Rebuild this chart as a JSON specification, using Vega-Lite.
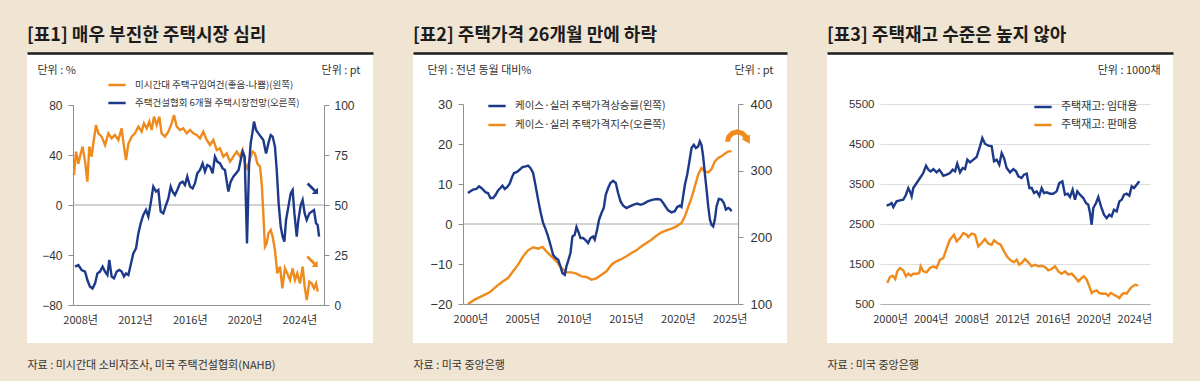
{
"$schema":"https://vega.github.io/schema/vega-lite/v6.json",
"background":"#f0e4d2",
"padding":{"left":27,"top":27,"right":27,"bottom":13},
"spacing":40,
"resolve":{"scale":{"color":"independent"},"legend":{"color":"independent"}},
"config":{
 "view":{"fill":"#ffffff","stroke":null},
 "font":"Noto Sans CJK KR",
 "axis":{"grid":false,"domainColor":"#8f8f8f","tickColor":"#8f8f8f","labelColor":"#333333","labelFont":"Liberation Sans","labelFontSize":12,"titleFont":"Noto Sans CJK KR","titleFontWeight":"normal","titleFontSize":11,"titleColor":"#333333"},
 "legend":{"orient":"none","direction":"vertical","symbolType":"stroke","symbolSize":300,"symbolStrokeWidth":2.5,"labelFont":"Noto Sans CJK KR","labelColor":"#333333","labelLimit":400,"labelOffset":8,"padding":0,"rowPadding":3},
 "title":{"anchor":"start","frame":"group","font":"Noto Sans CJK KR","fontSize":18,"fontWeight":700,"color":"#1c1c1c","offset":8,"baseline":"alphabetic"}
},
"datasets":{
 "p1o":[{"t":2007.55,"v":24},{"t":2007.7,"v":42.7},{"t":2007.87,"v":33},{"t":2007.99,"v":38.7},{"t":2008.18,"v":46.7},{"t":2008.36,"v":34.7},{"t":2008.53,"v":18.7},{"t":2008.67,"v":46.7},{"t":2008.84,"v":38.7},{"t":2008.96,"v":49},{"t":2009.16,"v":64},{"t":2009.33,"v":57.3},{"t":2009.57,"v":54.7},{"t":2009.82,"v":48},{"t":2010.06,"v":57.3},{"t":2010.3,"v":53.3},{"t":2010.54,"v":56},{"t":2010.79,"v":52},{"t":2011.03,"v":61.3},{"t":2011.2,"v":46.7},{"t":2011.35,"v":36},{"t":2011.52,"v":49},{"t":2011.76,"v":54.7},{"t":2012.0,"v":57.3},{"t":2012.25,"v":62.7},{"t":2012.49,"v":58.7},{"t":2012.66,"v":65.3},{"t":2012.86,"v":61.3},{"t":2013.05,"v":66.7},{"t":2013.22,"v":60},{"t":2013.39,"v":70.7},{"t":2013.59,"v":64},{"t":2013.78,"v":70.7},{"t":2013.95,"v":57.3},{"t":2014.19,"v":54.7},{"t":2014.44,"v":58.7},{"t":2014.68,"v":65.3},{"t":2014.85,"v":72},{"t":2015.05,"v":62.7},{"t":2015.29,"v":60},{"t":2015.53,"v":61.3},{"t":2015.78,"v":57.3},{"t":2016.02,"v":60},{"t":2016.26,"v":57.3},{"t":2016.51,"v":56},{"t":2016.75,"v":53.3},{"t":2016.99,"v":58.7},{"t":2017.24,"v":52},{"t":2017.48,"v":48},{"t":2017.72,"v":52},{"t":2017.97,"v":44},{"t":2018.21,"v":45.3},{"t":2018.45,"v":38.7},{"t":2018.7,"v":41.3},{"t":2018.94,"v":34.7},{"t":2019.18,"v":38.7},{"t":2019.43,"v":42.7},{"t":2019.67,"v":38.7},{"t":2019.86,"v":44},{"t":2020.03,"v":33.3},{"t":2020.2,"v":29.3},{"t":2020.4,"v":37.3},{"t":2020.59,"v":42.7},{"t":2020.76,"v":41.3},{"t":2020.93,"v":33.3},{"t":2021.13,"v":30.7},{"t":2021.27,"v":14.7},{"t":2021.37,"v":-6.7},{"t":2021.49,"v":-33.3},{"t":2021.62,"v":-30.7},{"t":2021.74,"v":-22.7},{"t":2021.91,"v":-20},{"t":2022.05,"v":-25.3},{"t":2022.22,"v":-36},{"t":2022.39,"v":-54.7},{"t":2022.59,"v":-49.3},{"t":2022.76,"v":-66.7},{"t":2022.95,"v":-50.7},{"t":2023.12,"v":-54.7},{"t":2023.32,"v":-60},{"t":2023.51,"v":-50.7},{"t":2023.68,"v":-60},{"t":2023.85,"v":-54.7},{"t":2024.05,"v":-62.7},{"t":2024.24,"v":-49.3},{"t":2024.39,"v":-65.3},{"t":2024.54,"v":-76},{"t":2024.73,"v":-61.3},{"t":2024.9,"v":-62.7},{"t":2025.07,"v":-66.7},{"t":2025.22,"v":-62.7},{"t":2025.34,"v":-69.3}],
 "p1b":[{"t":2007.63,"v":19.2},{"t":2007.87,"v":20},{"t":2008.11,"v":17.5},{"t":2008.36,"v":16.7},{"t":2008.53,"v":12.5},{"t":2008.72,"v":9.2},{"t":2008.91,"v":8.3},{"t":2009.09,"v":10.8},{"t":2009.26,"v":15.8},{"t":2009.45,"v":16.7},{"t":2009.64,"v":19.2},{"t":2009.82,"v":16.7},{"t":2009.99,"v":15},{"t":2010.13,"v":22.5},{"t":2010.3,"v":14.2},{"t":2010.47,"v":13.3},{"t":2010.67,"v":16.7},{"t":2010.86,"v":17.5},{"t":2011.03,"v":16.7},{"t":2011.2,"v":14.2},{"t":2011.35,"v":15.8},{"t":2011.52,"v":15},{"t":2011.69,"v":20},{"t":2011.88,"v":25.8},{"t":2012.08,"v":28.3},{"t":2012.25,"v":35.8},{"t":2012.42,"v":40.8},{"t":2012.61,"v":45},{"t":2012.81,"v":47.5},{"t":2012.98,"v":44.2},{"t":2013.15,"v":50.8},{"t":2013.34,"v":59.2},{"t":2013.54,"v":56.7},{"t":2013.71,"v":57.5},{"t":2013.88,"v":46.7},{"t":2014.07,"v":45.8},{"t":2014.27,"v":50},{"t":2014.44,"v":53.3},{"t":2014.61,"v":59.2},{"t":2014.75,"v":56.7},{"t":2014.92,"v":55},{"t":2015.09,"v":57.5},{"t":2015.29,"v":60.8},{"t":2015.48,"v":61.7},{"t":2015.65,"v":60},{"t":2015.82,"v":64.2},{"t":2016.02,"v":59.2},{"t":2016.21,"v":58.3},{"t":2016.38,"v":60.8},{"t":2016.55,"v":65.8},{"t":2016.75,"v":67.5},{"t":2016.94,"v":70.8},{"t":2017.11,"v":66.7},{"t":2017.28,"v":70},{"t":2017.48,"v":69.2},{"t":2017.67,"v":65.8},{"t":2017.84,"v":74.2},{"t":2018.01,"v":71.7},{"t":2018.21,"v":70.8},{"t":2018.4,"v":68.3},{"t":2018.57,"v":67.5},{"t":2018.82,"v":56.7},{"t":2018.99,"v":61.7},{"t":2019.18,"v":64.2},{"t":2019.38,"v":65.8},{"t":2019.57,"v":67.5},{"t":2019.72,"v":72.5},{"t":2019.86,"v":76.7},{"t":2020.01,"v":74.2},{"t":2020.18,"v":30.8},{"t":2020.33,"v":70},{"t":2020.45,"v":81},{"t":2020.57,"v":85.8},{"t":2020.69,"v":91.7},{"t":2020.84,"v":87.5},{"t":2021.01,"v":85.8},{"t":2021.18,"v":84.2},{"t":2021.37,"v":82.5},{"t":2021.57,"v":75.8},{"t":2021.74,"v":80.8},{"t":2021.91,"v":85},{"t":2022.05,"v":84.2},{"t":2022.22,"v":79.2},{"t":2022.35,"v":67.5},{"t":2022.49,"v":50.8},{"t":2022.64,"v":39.2},{"t":2022.78,"v":34.2},{"t":2022.91,"v":31.7},{"t":2023.03,"v":42.5},{"t":2023.2,"v":49.2},{"t":2023.37,"v":55.8},{"t":2023.51,"v":57.5},{"t":2023.64,"v":45.8},{"t":2023.81,"v":34.2},{"t":2023.93,"v":42.5},{"t":2024.1,"v":50},{"t":2024.24,"v":52.5},{"t":2024.39,"v":45.8},{"t":2024.54,"v":42.5},{"t":2024.73,"v":45.8},{"t":2024.9,"v":46.7},{"t":2025.07,"v":47.5},{"t":2025.22,"v":40.8},{"t":2025.34,"v":40},{"t":2025.44,"v":34.2}],
 "p2b":[{"t":1999.77,"v":7.75},{"t":2000.0,"v":8.2},{"t":2000.26,"v":8.6},{"t":2000.58,"v":8.75},{"t":2000.84,"v":9.4},{"t":2001.06,"v":9.0},{"t":2001.29,"v":8.4},{"t":2001.48,"v":7.9},{"t":2001.7,"v":7.75},{"t":2001.93,"v":6.5},{"t":2002.19,"v":6.5},{"t":2002.44,"v":7.3},{"t":2002.67,"v":8.4},{"t":2002.89,"v":9.0},{"t":2003.09,"v":9.6},{"t":2003.31,"v":8.75},{"t":2003.54,"v":9.2},{"t":2003.79,"v":10.1},{"t":2004.02,"v":11.75},{"t":2004.21,"v":12.75},{"t":2004.5,"v":13.0},{"t":2004.76,"v":13.6},{"t":2005.02,"v":14.2},{"t":2005.34,"v":14.4},{"t":2005.56,"v":14.6},{"t":2005.79,"v":14.0},{"t":2006.05,"v":12.75},{"t":2006.3,"v":9.4},{"t":2006.53,"v":6.1},{"t":2006.75,"v":3.2},{"t":2007.01,"v":0.25},{"t":2007.27,"v":-1.4},{"t":2007.49,"v":-3.1},{"t":2007.72,"v":-5.2},{"t":2007.97,"v":-7.7},{"t":2008.23,"v":-8.5},{"t":2008.46,"v":-8.9},{"t":2008.68,"v":-10.6},{"t":2008.87,"v":-12.25},{"t":2009.1,"v":-12.7},{"t":2009.26,"v":-10.6},{"t":2009.42,"v":-9.3},{"t":2009.65,"v":-7.25},{"t":2009.84,"v":-3.1},{"t":2010.06,"v":-2.7},{"t":2010.23,"v":-0.75},{"t":2010.39,"v":-1.8},{"t":2010.61,"v":-3.5},{"t":2010.87,"v":-3.5},{"t":2011.13,"v":-4.1},{"t":2011.35,"v":-4.75},{"t":2011.58,"v":-3.5},{"t":2011.83,"v":-3.1},{"t":2011.99,"v":-3.9},{"t":2012.22,"v":-1.4},{"t":2012.41,"v":1.1},{"t":2012.64,"v":2.75},{"t":2012.86,"v":4.0},{"t":2013.05,"v":7.3},{"t":2013.28,"v":9.0},{"t":2013.5,"v":10.25},{"t":2013.76,"v":10.8},{"t":2014.02,"v":10.25},{"t":2014.24,"v":7.75},{"t":2014.47,"v":5.7},{"t":2014.73,"v":4.6},{"t":2015.05,"v":4.0},{"t":2015.37,"v":4.4},{"t":2015.69,"v":4.8},{"t":2016.08,"v":5.1},{"t":2016.4,"v":4.8},{"t":2016.72,"v":5.1},{"t":2017.14,"v":5.7},{"t":2017.62,"v":6.1},{"t":2018.01,"v":6.25},{"t":2018.33,"v":6.1},{"t":2018.59,"v":5.25},{"t":2018.84,"v":4.25},{"t":2019.07,"v":3.4},{"t":2019.39,"v":2.9},{"t":2019.71,"v":3.2},{"t":2019.94,"v":4.25},{"t":2020.19,"v":4.6},{"t":2020.35,"v":4.25},{"t":2020.51,"v":6.9},{"t":2020.68,"v":9.8},{"t":2020.9,"v":12.3},{"t":2021.09,"v":15.25},{"t":2021.32,"v":19.0},{"t":2021.54,"v":19.8},{"t":2021.74,"v":19.0},{"t":2021.96,"v":19.4},{"t":2022.12,"v":20.7},{"t":2022.28,"v":19.8},{"t":2022.44,"v":16.9},{"t":2022.6,"v":12.75},{"t":2022.77,"v":8.6},{"t":2022.93,"v":4.4},{"t":2023.09,"v":1.1},{"t":2023.25,"v":-0.2},{"t":2023.41,"v":-0.6},{"t":2023.57,"v":1.1},{"t":2023.73,"v":4.4},{"t":2023.95,"v":6.25},{"t":2024.21,"v":6.1},{"t":2024.44,"v":5.25},{"t":2024.63,"v":3.6},{"t":2024.86,"v":4.0},{"t":2025.02,"v":3.75},{"t":2025.18,"v":3.2}],
 "p2o":[{"t":1999.77,"v":100},{"t":2000.42,"v":106.5},{"t":2001.06,"v":111.5},{"t":2001.86,"v":117.5},{"t":2002.51,"v":126.5},{"t":2003.15,"v":134},{"t":2003.63,"v":139},{"t":2004.12,"v":149},{"t":2004.6,"v":159},{"t":2005.08,"v":171.5},{"t":2005.56,"v":180.5},{"t":2006.05,"v":185},{"t":2006.53,"v":183},{"t":2006.95,"v":185.5},{"t":2007.33,"v":179},{"t":2007.81,"v":171.5},{"t":2008.3,"v":164},{"t":2008.78,"v":154},{"t":2009.26,"v":147.5},{"t":2009.74,"v":147.5},{"t":2010.23,"v":145.5},{"t":2010.71,"v":141.5},{"t":2011.19,"v":140.5},{"t":2011.67,"v":136.5},{"t":2012.15,"v":138.5},{"t":2012.64,"v":144},{"t":2013.12,"v":149},{"t":2013.6,"v":159},{"t":2014.08,"v":164},{"t":2014.57,"v":167.5},{"t":2015.05,"v":171.5},{"t":2015.53,"v":176.5},{"t":2016.01,"v":180.5},{"t":2016.5,"v":186.5},{"t":2016.98,"v":191.5},{"t":2017.46,"v":196.5},{"t":2017.94,"v":202.5},{"t":2018.42,"v":207.5},{"t":2018.91,"v":210.5},{"t":2019.39,"v":213},{"t":2019.87,"v":216.5},{"t":2020.35,"v":221.5},{"t":2020.68,"v":231.5},{"t":2021.0,"v":245.5},{"t":2021.32,"v":259},{"t":2021.64,"v":276.5},{"t":2021.96,"v":294},{"t":2022.28,"v":304},{"t":2022.6,"v":299},{"t":2022.93,"v":297.5},{"t":2023.25,"v":302.5},{"t":2023.57,"v":314},{"t":2023.89,"v":319},{"t":2024.21,"v":321.5},{"t":2024.53,"v":325.5},{"t":2024.86,"v":329},{"t":2025.18,"v":329}],
 "p3b":[{"t":1999.67,"v":2957},{"t":1999.93,"v":2982},{"t":2000.16,"v":3024},{"t":2000.33,"v":2924},{"t":2000.65,"v":3066},{"t":2000.98,"v":3090},{"t":2001.31,"v":3107},{"t":2001.57,"v":3232},{"t":2001.8,"v":3399},{"t":2001.96,"v":3316},{"t":2002.13,"v":3190},{"t":2002.29,"v":3400},{"t":2002.62,"v":3524},{"t":2002.95,"v":3649},{"t":2003.27,"v":3774},{"t":2003.54,"v":3958},{"t":2003.77,"v":3857},{"t":2003.99,"v":3816},{"t":2004.26,"v":3874},{"t":2004.58,"v":3791},{"t":2004.85,"v":3857},{"t":2005.08,"v":3774},{"t":2005.24,"v":3707},{"t":2005.57,"v":3733},{"t":2005.89,"v":3774},{"t":2006.16,"v":3857},{"t":2006.39,"v":3816},{"t":2006.61,"v":4008},{"t":2006.88,"v":3791},{"t":2007.14,"v":3899},{"t":2007.37,"v":3874},{"t":2007.6,"v":4108},{"t":2007.86,"v":4041},{"t":2008.19,"v":4108},{"t":2008.51,"v":4174},{"t":2008.84,"v":4441},{"t":2009.07,"v":4649},{"t":2009.33,"v":4507},{"t":2009.66,"v":4457},{"t":2009.99,"v":4441},{"t":2010.22,"v":4066},{"t":2010.48,"v":4108},{"t":2010.74,"v":3983},{"t":2010.97,"v":4274},{"t":2011.2,"v":4149},{"t":2011.46,"v":3899},{"t":2011.79,"v":3791},{"t":2012.12,"v":3874},{"t":2012.38,"v":3816},{"t":2012.61,"v":3691},{"t":2012.93,"v":3649},{"t":2013.16,"v":3733},{"t":2013.43,"v":3758},{"t":2013.69,"v":3399},{"t":2013.92,"v":3399},{"t":2014.15,"v":3274},{"t":2014.41,"v":3316},{"t":2014.67,"v":3207},{"t":2014.9,"v":3399},{"t":2015.13,"v":3274},{"t":2015.39,"v":3291},{"t":2015.72,"v":3257},{"t":2016.04,"v":3257},{"t":2016.37,"v":3316},{"t":2016.63,"v":3524},{"t":2016.93,"v":3566},{"t":2017.19,"v":3232},{"t":2017.45,"v":3257},{"t":2017.68,"v":3174},{"t":2017.94,"v":3357},{"t":2018.17,"v":3107},{"t":2018.4,"v":3316},{"t":2018.66,"v":3232},{"t":2018.99,"v":3149},{"t":2019.25,"v":3024},{"t":2019.48,"v":2982},{"t":2019.65,"v":2774},{"t":2019.81,"v":2482},{"t":2019.97,"v":2899},{"t":2020.24,"v":3024},{"t":2020.46,"v":3174},{"t":2020.73,"v":2941},{"t":2021.02,"v":2732},{"t":2021.28,"v":2649},{"t":2021.55,"v":2732},{"t":2021.77,"v":2691},{"t":2022.0,"v":2857},{"t":2022.27,"v":2816},{"t":2022.53,"v":3066},{"t":2022.76,"v":3107},{"t":2022.99,"v":3232},{"t":2023.25,"v":3257},{"t":2023.51,"v":3207},{"t":2023.74,"v":3441},{"t":2023.97,"v":3399},{"t":2024.23,"v":3482},{"t":2024.49,"v":3566}],
 "p3o":[{"t":1999.74,"v":1024},{"t":2000.0,"v":1174},{"t":2000.26,"v":1207},{"t":2000.52,"v":1124},{"t":2000.72,"v":1316},{"t":2000.98,"v":1399},{"t":2001.31,"v":1341},{"t":2001.57,"v":1191},{"t":2001.8,"v":1257},{"t":2002.06,"v":1207},{"t":2002.29,"v":1257},{"t":2002.62,"v":1257},{"t":2002.88,"v":1274},{"t":2003.01,"v":1441},{"t":2003.27,"v":1316},{"t":2003.6,"v":1291},{"t":2003.93,"v":1399},{"t":2004.26,"v":1441},{"t":2004.58,"v":1399},{"t":2004.91,"v":1607},{"t":2005.24,"v":1649},{"t":2005.57,"v":1899},{"t":2005.89,"v":2107},{"t":2006.29,"v":2232},{"t":2006.55,"v":2066},{"t":2006.88,"v":2149},{"t":2007.2,"v":2274},{"t":2007.53,"v":2232},{"t":2007.69,"v":2174},{"t":2008.02,"v":2257},{"t":2008.35,"v":2232},{"t":2008.68,"v":1941},{"t":2009.0,"v":2024},{"t":2009.33,"v":2124},{"t":2009.66,"v":2007},{"t":2009.99,"v":1982},{"t":2010.22,"v":2091},{"t":2010.54,"v":2024},{"t":2010.87,"v":1982},{"t":2011.2,"v":1816},{"t":2011.53,"v":1674},{"t":2011.85,"v":1591},{"t":2012.18,"v":1541},{"t":2012.44,"v":1607},{"t":2012.7,"v":1482},{"t":2012.93,"v":1524},{"t":2013.26,"v":1624},{"t":2013.59,"v":1541},{"t":2013.92,"v":1441},{"t":2014.24,"v":1482},{"t":2014.57,"v":1441},{"t":2014.9,"v":1457},{"t":2015.23,"v":1424},{"t":2015.55,"v":1341},{"t":2015.88,"v":1374},{"t":2016.21,"v":1441},{"t":2016.54,"v":1316},{"t":2016.86,"v":1257},{"t":2017.19,"v":1316},{"t":2017.52,"v":1232},{"t":2017.85,"v":1257},{"t":2018.17,"v":1174},{"t":2018.5,"v":1066},{"t":2018.83,"v":1149},{"t":2019.06,"v":1191},{"t":2019.32,"v":1107},{"t":2019.58,"v":941},{"t":2019.81,"v":774},{"t":2020.04,"v":816},{"t":2020.3,"v":841},{"t":2020.56,"v":774},{"t":2020.89,"v":757},{"t":2021.22,"v":757},{"t":2021.45,"v":707},{"t":2021.68,"v":774},{"t":2022.0,"v":732},{"t":2022.27,"v":691},{"t":2022.53,"v":649},{"t":2022.76,"v":732},{"t":2022.99,"v":774},{"t":2023.25,"v":757},{"t":2023.51,"v":857},{"t":2023.74,"v":924},{"t":2024.07,"v":982},{"t":2024.39,"v":957}]
},
"hconcat":[
{
 "width":346,"height":289,
 "title":{"text":"[표1] 매우 부진한 주택시장 심리"},
 "resolve":{"scale":{"x":"independent","y":"independent"}},
 "layer":[
  {"data":{"values":[{}]},"mark":{"type":"rule","color":"#a6a6a6","strokeWidth":1},
   "encoding":{"x":{"datum":2007.48,"type":"quantitative","scale":{"domain":[2007.48,2025.8],"range":[46,297],"nice":false,"zero":false},"axis":null},"x2":{"datum":2025.8},"y":{"datum":0,"type":"quantitative","scale":{"domain":[-80,80],"range":[251,51],"nice":false,"zero":false},"axis":null}}},
  {"data":{"name":"p1o"},"mark":{"type":"line","strokeWidth":2.4},
   "encoding":{
    "x":{"field":"t","type":"quantitative","scale":{"domain":[2007.48,2025.8],"range":[46,297],"nice":false,"zero":false},
     "axis":{"orient":"bottom","offset":-38,"values":[2008,2012,2016,2020,2024],"labelExpr":"datum.value + '년'","ticks":false,"labelPadding":9,"labelFont":"Liberation Sans Narrow, Noto Sans CJK KR","labelFontSize":11,"labelFlush":false,"title":"자료 : 미시간대 소비자조사, 미국 주택건설협회(NAHB)","titleX":0,"titleY":63,"titleAlign":"left","titleBaseline":"alphabetic","titleFontSize":11}},
    "y":{"field":"v","type":"quantitative","scale":{"domain":[-80,80],"range":[251,51],"nice":false,"zero":false},
     "axis":{"orient":"left","offset":-46,"values":[-80,-40,0,40,80],"tickSize":5,"labelPadding":6,"title":"단위 : %","titleAngle":0,"titleAlign":"left","titleBaseline":"middle","titleX":-36,"titleY":16}},
    "color":{"datum":"미시간대 주택구입여건(좋음-나쁨)(왼쪽)","type":"nominal","scale":{"domain":["미시간대 주택구입여건(좋음-나쁨)(왼쪽)","주택건설협회 6개월 주택시장전망(오른쪽)"],"range":["#ef8a1c","#1d3a8a"]},
     "legend":{"title":null,"legendX":80,"legendY":21,"labelFontSize":9.5}}}},
  {"data":{"name":"p1b"},"mark":{"type":"line","strokeWidth":2.4},
   "encoding":{
    "x":{"field":"t","type":"quantitative","scale":{"domain":[2007.48,2025.8],"range":[46,297],"nice":false,"zero":false},"axis":null},
    "y":{"field":"v","type":"quantitative","scale":{"domain":[0,100],"range":[251,51],"nice":false,"zero":false},
     "axis":{"orient":"right","offset":-49,"values":[0,25,50,75,100],"tickSize":5,"labelPadding":5,"title":"단위 : pt","titleAngle":0,"titleAlign":"right","titleBaseline":"middle","titleX":36,"titleY":16}},
    "color":{"datum":"주택건설협회 6개월 주택시장전망(오른쪽)","type":"nominal","scale":{"domain":["미시간대 주택구입여건(좋음-나쁨)(왼쪽)","주택건설협회 6개월 주택시장전망(오른쪽)"],"range":["#ef8a1c","#1d3a8a"]}}}},
  {"data":{"values":[{"t":2024.9,"v":58.7}]},"mark":{"type":"point","shape":"M-0.5,-0.8L0.65,0.35L1,0L1,1L0,1L0.35,0.65L-0.8,-0.5Z","filled":true,"color":"#1d3a8a","opacity":1,"size":160},
   "encoding":{"x":{"field":"t","type":"quantitative","scale":{"domain":[2007.48,2025.8],"range":[46,297],"nice":false,"zero":false},"axis":null},"y":{"field":"v","type":"quantitative","scale":{"domain":[0,100],"range":[251,51],"nice":false,"zero":false},"axis":null}}},
  {"data":{"values":[{"t":2024.88,"v":-44.5}]},"mark":{"type":"point","shape":"M-0.5,-0.8L0.65,0.35L1,0L1,1L0,1L0.35,0.65L-0.8,-0.5Z","filled":true,"color":"#ef8a1c","opacity":1,"size":160},
   "encoding":{"x":{"field":"t","type":"quantitative","scale":{"domain":[2007.48,2025.8],"range":[46,297],"nice":false,"zero":false},"axis":null},"y":{"field":"v","type":"quantitative","scale":{"domain":[-80,80],"range":[251,51],"nice":false,"zero":false},"axis":null}}},
  {"data":{"values":[{}]},"mark":{"type":"rule","opacity":0},
   "encoding":{"x":{"datum":0,"type":"quantitative","scale":{"domain":[0,1],"nice":false,"zero":false},"axis":{"orient":"top","offset":1,"domain":true,"domainColor":"#1c1c1c","domainWidth":2.5,"ticks":false,"labels":false,"grid":false,"title":null}}}}
 ]
},
{
 "width":374,"height":289,
 "title":{"text":"[표2] 주택가격 26개월 만에 하락"},
 "resolve":{"scale":{"x":"independent","y":"independent"}},
 "layer":[
  {"data":{"values":[{}]},"mark":{"type":"rule","color":"#a6a6a6","strokeWidth":1},
   "encoding":{"x":{"datum":1999.29,"type":"quantitative","scale":{"domain":[1999.29,2025.8],"range":[50,325],"nice":false,"zero":false},"axis":null},"x2":{"datum":2025.8},"y":{"datum":0,"type":"quantitative","scale":{"domain":[-20,30],"range":[250,50],"nice":false,"zero":false},"axis":null}}},
  {"data":{"name":"p2o"},"mark":{"type":"line","strokeWidth":2.4},
   "encoding":{
    "x":{"field":"t","type":"quantitative","scale":{"domain":[1999.29,2025.8],"range":[50,325],"nice":false,"zero":false},"axis":null},
    "y":{"field":"v","type":"quantitative","scale":{"domain":[100,400],"range":[250,50],"nice":false,"zero":false},
     "axis":{"orient":"right","offset":-49,"values":[100,200,300,400],"tickSize":5,"labelPadding":7,"labelFontSize":13,"title":"단위 : pt","titleAngle":0,"titleAlign":"right","titleBaseline":"middle","titleX":35,"titleY":16}},
    "color":{"datum":"케이스·실러 주택가격지수(오른쪽)","type":"nominal","scale":{"domain":["케이스·실러 주택가격상승률(왼쪽)","케이스·실러 주택가격지수(오른쪽)"],"range":["#1d3a8a","#ef8a1c"]}}}},
  {"data":{"name":"p2b"},"mark":{"type":"line","strokeWidth":2.4},
   "encoding":{
    "x":{"field":"t","type":"quantitative","scale":{"domain":[1999.29,2025.8],"range":[50,325],"nice":false,"zero":false},
     "axis":{"orient":"bottom","offset":-39,"values":[2000,2005,2010,2015,2020,2025],"labelExpr":"datum.value + '년'","ticks":false,"labelPadding":9,"labelFont":"Liberation Sans Narrow, Noto Sans CJK KR","labelFontSize":11,"labelFlush":false,"title":"자료 : 미국 중앙은행","titleX":0,"titleY":64,"titleAlign":"left","titleBaseline":"alphabetic","titleFontSize":11}},
    "y":{"field":"v","type":"quantitative","scale":{"domain":[-20,30],"range":[250,50],"nice":false,"zero":false},
     "axis":{"orient":"left","offset":-50,"values":[-20,-10,0,10,20,30],"tickSize":5,"labelPadding":6,"labelFontSize":13,"title":"단위 : 전년 동월 대비%","titleAngle":0,"titleAlign":"left","titleBaseline":"middle","titleX":-36,"titleY":16}},
    "color":{"datum":"케이스·실러 주택가격상승률(왼쪽)","type":"nominal","scale":{"domain":["케이스·실러 주택가격상승률(왼쪽)","케이스·실러 주택가격지수(오른쪽)"],"range":["#1d3a8a","#ef8a1c"]},
     "legend":{"title":null,"legendX":74,"legendY":42,"labelFontSize":10.5}}}},
  {"data":{"values":[{"t":2025.73,"v":350}]},"mark":{"type":"point","shape":"M-0.85,0.3L-0.736,-0.125L-0.425,-0.436L0,-0.55L0.425,-0.436L0.736,-0.125L0.866,-0.2L0.86,0.44L0.303,0.125L0.433,0.05L0.25,-0.133L0,-0.2L-0.25,-0.133L-0.433,0.05L-0.5,0.3Z","filled":true,"color":"#ef8a1c","opacity":1,"size":850},
   "encoding":{"x":{"field":"t","type":"quantitative","scale":{"domain":[1999.29,2025.8],"range":[50,325],"nice":false,"zero":false},"axis":null},"y":{"field":"v","type":"quantitative","scale":{"domain":[100,400],"range":[250,50],"nice":false,"zero":false},"axis":null}}},
  {"data":{"values":[{}]},"mark":{"type":"rule","opacity":0},
   "encoding":{"x":{"datum":0,"type":"quantitative","scale":{"domain":[0,1],"nice":false,"zero":false},"axis":{"orient":"top","offset":1,"domain":true,"domainColor":"#1c1c1c","domainWidth":2.5,"ticks":false,"labels":false,"grid":false,"title":null}}}}
 ]
},
{
 "width":346,"height":289,
 "title":{"text":"[표3] 주택재고 수준은 높지 않아"},
 "resolve":{"scale":{"x":"independent","y":"independent"}},
 "layer":[
  {"data":{"name":"p3b"},"mark":{"type":"line","strokeWidth":2.4},
   "encoding":{
    "x":{"field":"t","type":"quantitative","scale":{"domain":[1999.02,2025.54],"range":[53,323],"nice":false,"zero":false},
     "axis":{"orient":"bottom","offset":-39,"values":[2000,2004,2008,2012,2016,2020,2024],"labelExpr":"datum.value + '년'","ticks":false,"domainColor":"#b0b0b0","labelPadding":9,"labelFont":"Liberation Sans Narrow, Noto Sans CJK KR","labelFontSize":11,"labelFlush":false,"title":"자료 : 미국 중앙은행","titleX":0,"titleY":64,"titleAlign":"left","titleBaseline":"alphabetic","titleFontSize":11}},
    "y":{"field":"v","type":"quantitative","scale":{"domain":[500,5500],"range":[250,50],"nice":false,"zero":false},
     "axis":{"orient":"left","offset":-53,"values":[500,1500,2500,3500,4500,5500],"format":"d","grid":true,"gridColor":"#dedede","domain":false,"ticks":false,"labelPadding":6,"labelFontSize":11.5,"title":"단위 : 1000채","titleAngle":0,"titleAlign":"right","titleBaseline":"middle","titleX":280,"titleY":16}},
    "color":{"datum":"주택재고: 임대용","type":"nominal","scale":{"domain":["주택재고: 임대용","주택재고: 판매용"],"range":["#1d3a8a","#ef8a1c"]},
     "legend":{"title":null,"legendX":206,"legendY":43,"labelFontSize":11}}}},
  {"data":{"name":"p3o"},"mark":{"type":"line","strokeWidth":2.4},
   "encoding":{
    "x":{"field":"t","type":"quantitative","scale":{"domain":[1999.02,2025.54],"range":[53,323],"nice":false,"zero":false},"axis":null},
    "y":{"field":"v","type":"quantitative","scale":{"domain":[500,5500],"range":[250,50],"nice":false,"zero":false},"axis":null},
    "color":{"datum":"주택재고: 판매용","type":"nominal","scale":{"domain":["주택재고: 임대용","주택재고: 판매용"],"range":["#1d3a8a","#ef8a1c"]}}}},
  {"data":{"values":[{}]},"mark":{"type":"rule","opacity":0},
   "encoding":{"x":{"datum":0,"type":"quantitative","scale":{"domain":[0,1],"nice":false,"zero":false},"axis":{"orient":"top","offset":1,"domain":true,"domainColor":"#1c1c1c","domainWidth":2.5,"ticks":false,"labels":false,"grid":false,"title":null}}}}
 ]
}
]
}
